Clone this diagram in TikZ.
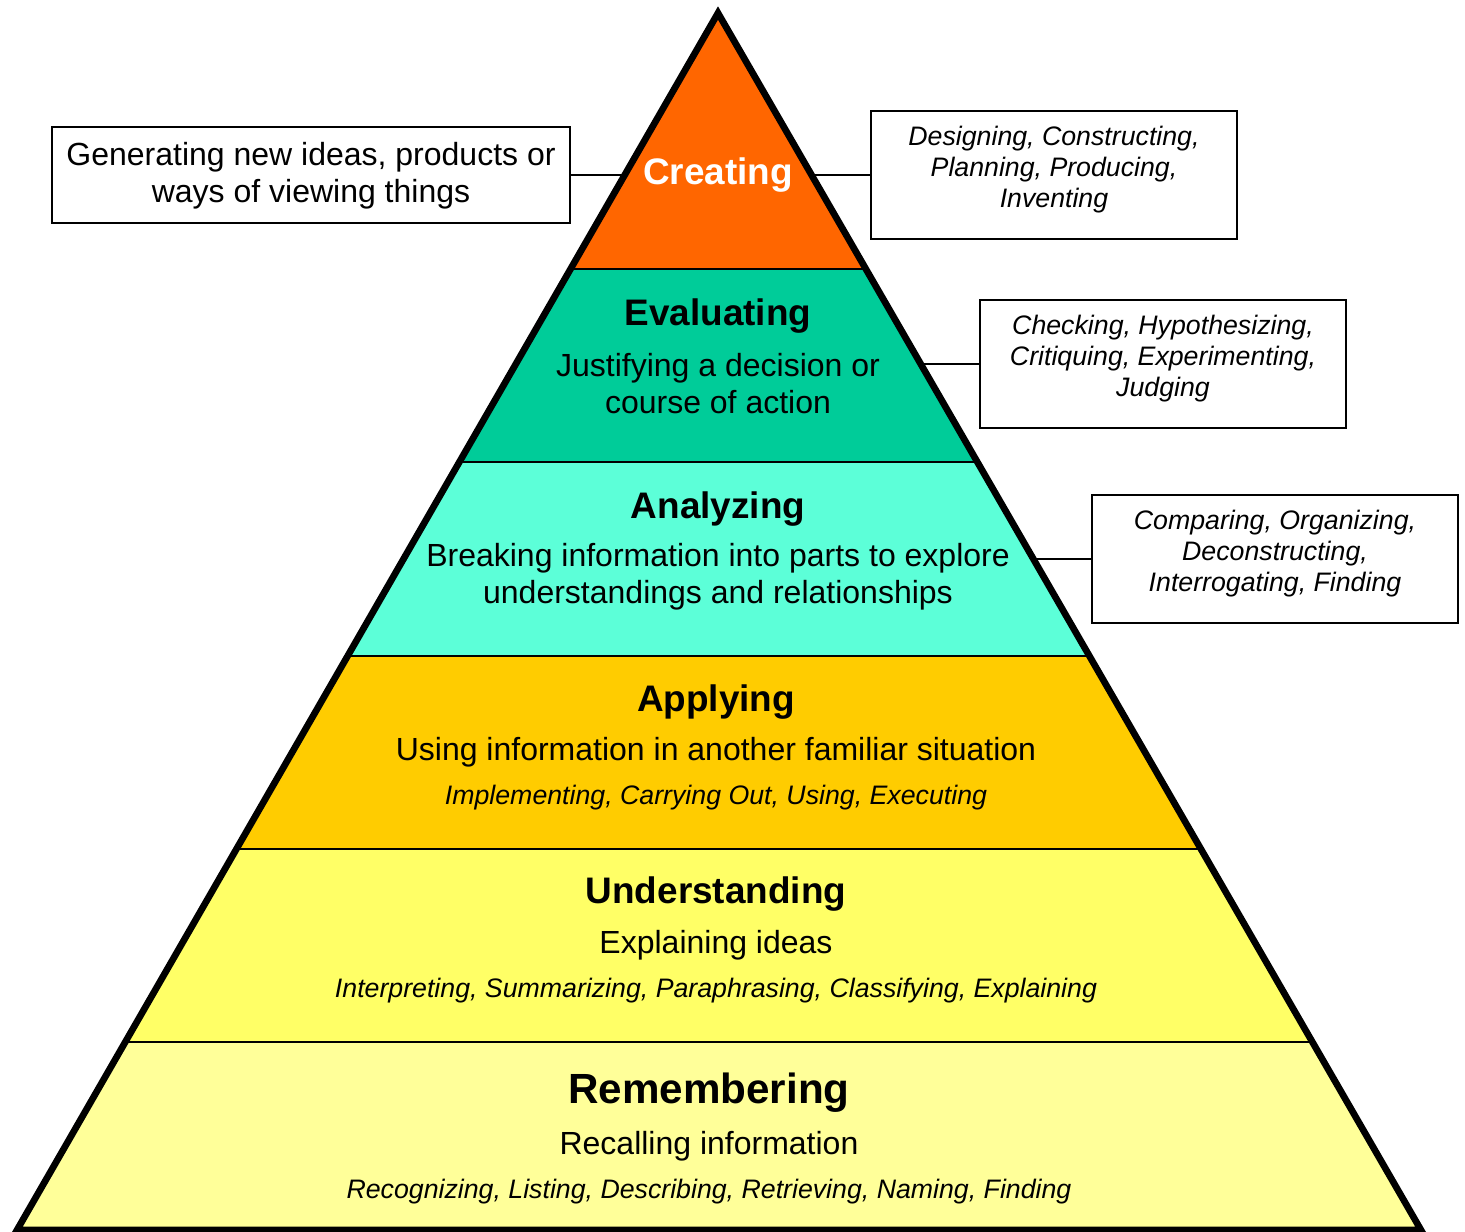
\documentclass[tikz,border=0pt]{standalone}
\usepackage{fontspec}
\setmainfont{Liberation Sans}
\usetikzlibrary{calc,positioning}

\definecolor{createcol}{HTML}{FF6600}
\definecolor{evalcol}{HTML}{00CC99}
\definecolor{analcol}{HTML}{5CFFD8}
\definecolor{applcol}{HTML}{FFCC00}
\definecolor{undcol}{HTML}{FFFF66}
\definecolor{remcol}{HTML}{FFFF99}

\begin{document}
\begin{tikzpicture}[x=0.01cm,y=-0.01cm,
  title/.style={font=\bfseries\fontsize{10.5}{12}\selectfont},
  body/.style={font=\fontsize{9.1}{10.5}\selectfont, align=center},
  verbs/.style={font=\itshape\fontsize{7.6}{8.8}\selectfont, align=center},
  descbox/.style={draw, line width=0.7pt, minimum width=3.66cm, minimum height=1.28cm}]
\useasboundingbox (0,0) rectangle (1465,1232);

\coordinate (apex) at (718,13);
\coordinate (bl) at (17,1230);
\coordinate (br) at (1421,1230);
\foreach \t [count=\i] in {0.2104,0.3690,0.5284,0.6870,0.8456} {
  \coordinate (l\i) at ($(apex)!\t!(bl)$);
  \coordinate (r\i) at ($(apex)!\t!(br)$);
}
\coordinate (crmid) at (718,175);
\coordinate (evmid) at (718,364);
\coordinate (anmid) at (718,559);

% boxes and their connectors (under the pyramid)
\node[draw, line width=0.7pt, minimum width=5.18cm, minimum height=0.96cm, body] (genbox) at (311,175)
  {\rule{0pt}{2.5mm}Generating new ideas, products or\\ways of viewing things};
\node[descbox] (crbox) at (1054,175) {};
\node[descbox] (evbox) at (1163,364) {};
\node[descbox] (anbox) at (1275,559) {};
\node[verbs, below=0.04cm of crbox.north] (crverbs) {Designing, Constructing,\\Planning, Producing,\\Inventing};
\node[verbs, below=0.04cm of evbox.north] (evverbs) {Checking, Hypothesizing,\\Critiquing, Experimenting,\\Judging};
\node[verbs, below=0.04cm of anbox.north] (anverbs) {Comparing, Organizing,\\Deconstructing,\\Interrogating, Finding};
\draw[line width=0.7pt] (genbox.east) -- (crmid) -- (crbox.west);
\draw[line width=0.7pt] (evmid) -- (evbox.west);
\draw[line width=0.7pt] (anmid) -- (anbox.west);

% layers
\fill[createcol] (apex) -- (l1) -- (r1) -- cycle;
\fill[evalcol] (l1) -- (l2) -- (r2) -- (r1) -- cycle;
\fill[analcol] (l2) -- (l3) -- (r3) -- (r2) -- cycle;
\fill[applcol] (l3) -- (l4) -- (r4) -- (r3) -- cycle;
\fill[undcol] (l4) -- (l5) -- (r5) -- (r4) -- cycle;
\fill[remcol] (l5) -- (bl) -- (br) -- (r5) -- cycle;
\foreach \i in {1,...,5}
  \draw[line width=0.7pt] (l\i) -- (r\i);
\draw[line width=1.9pt] (apex) -- (bl) -- (br) -- cycle;

% texts
\node[title, text=white] (creating) at (718,175) {Creating};

\node[title] (evaluating) at (718,316) {Evaluating};
\node[body] (evaldesc) at (718,384) {Justifying a decision or\\course of action};

\node[title] (analyzing) at (718,509) {Analyzing};
\node[body] (analdesc) at (718,577) {Breaking information into parts to explore\\understandings and relationships};

\node[title] (applying) at (716,702) {Applying};
\node[body] (appldesc) at (716,752) {Using information in another familiar situation};
\node[verbs] (applverbs) at (716,798) {Implementing, Carrying Out, Using, Executing};

\node[title] (understanding) at (716,894) {Understanding};
\node[body] (unddesc) at (716,945) {Explaining ideas};
\node[verbs] (undverbs) at (716,991) {Interpreting, Summarizing, Paraphrasing, Classifying, Explaining};

\node[title, font=\bfseries\fontsize{12}{14}\selectfont] (remembering) at (709,1093) {Remembering};
\node[body] (remdesc) at (709,1146) {Recalling information};
\node[verbs] (remverbs) at (709,1192) {Recognizing, Listing, Describing, Retrieving, Naming, Finding};
\end{tikzpicture}
\end{document}
